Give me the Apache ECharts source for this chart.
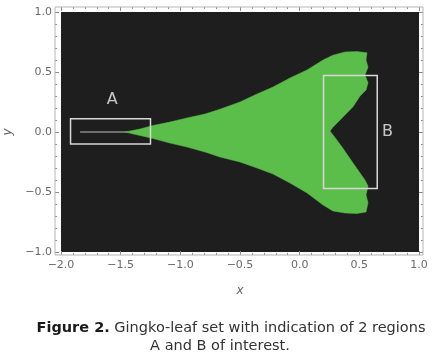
<!DOCTYPE html>
<html>
<head>
<meta charset="utf-8">
<script src="https://cdn.jsdelivr.net/npm/echarts@6/dist/echarts.min.js"></script>
<style>
html,body{margin:0;padding:0;background:#fff;}
#chart{width:433px;height:352px;}
</style>
</head>
<body>
<div id="chart"></div>
<script>
// Axis ticks
var xTicks = [-2.0, -1.5, -1.0, -0.5, 0.0, 0.5, 1.0];
var yTicks = [-1.0, -0.5, 0.0, 0.5, 1.0];

// Outline of the gingko-leaf set (x, y)
var leafOutline = [
  [-1.464, 0.0], [-1.338, 0.025], [-1.229, 0.054], [-1.087, 0.083], [-0.944, 0.117],
  [-0.793, 0.15], [-0.668, 0.19], [-0.5, 0.25], [-0.357, 0.317], [-0.223, 0.375],
  [-0.081, 0.45], [0.062, 0.517], [0.196, 0.6], [0.279, 0.64], [0.38, 0.667],
  [0.48, 0.67], [0.564, 0.66],
  [0.556, 0.6], [0.573, 0.54], [0.547, 0.475], [0.573, 0.41], [0.556, 0.35],
  [0.506, 0.3], [0.447, 0.21], [0.363, 0.125], [0.279, 0.04], [0.254, 0.008],
  [0.305, -0.058], [0.355, -0.125], [0.447, -0.258], [0.506, -0.342], [0.547, -0.4],
  [0.573, -0.45], [0.556, -0.525], [0.573, -0.59], [0.556, -0.667],
  [0.48, -0.679], [0.38, -0.675], [0.279, -0.658], [0.196, -0.608], [0.062, -0.508],
  [-0.081, -0.425], [-0.223, -0.35], [-0.357, -0.3], [-0.5, -0.25], [-0.668, -0.208],
  [-0.793, -0.167], [-0.944, -0.125], [-1.087, -0.092], [-1.229, -0.054], [-1.338, -0.029]
];

// Thin filament inside region A
var filament = [[-1.84, 0.0], [-1.44, 0.0]];

// Regions of interest: [xMin, yMin, xMax, yMax]
var regions = [[-1.92, -0.1, -1.25, 0.11], [0.2, -0.47, 0.65, 0.47]];
// Region labels: [x, y, text]
var regionLabels = [[-1.57, 0.27, 'A'], [0.735, 0.0, 'B']];

var chart = echarts.init(document.getElementById('chart'), null, {renderer: 'canvas'});

var gridL = 61, gridT = 12, gridW = 358, gridH = 240;
var fmt = function (v) { return v.toFixed(1).replace('-', '\u2212'); };
var tickColor = '#8a8a8a';
var labelStyle = {color: '#6a6a6a', fontSize: 11, fontFamily: 'DejaVu Sans'};

function axisBase(extra) {
  var a = {
    type: 'value',
    interval: 0.5,
    axisLine: {show: false, onZero: false},
    axisTick: {show: true, inside: true, length: 4, lineStyle: {color: tickColor, width: 1}},
    minorTick: {show: true, splitNumber: 5, length: 2, lineStyle: {color: tickColor, width: 1}},
    splitLine: {show: false},
    minorSplitLine: {show: false}
  };
  for (var k in extra) a[k] = extra[k];
  return a;
}

var option = {
  animation: false,
  backgroundColor: '#ffffff',
  grid: {left: gridL, top: gridT, width: gridW, height: gridH, show: true, backgroundColor: '#1e1e1e', borderWidth: 0,
    containLabel: false, outerBoundsMode: 'none'},
  xAxis: [
    axisBase({min: xTicks[0], max: xTicks[xTicks.length - 1], position: 'bottom', offset: 3,
      axisLabel: {show: true, formatter: fmt, margin: 5, color: labelStyle.color, fontSize: labelStyle.fontSize, fontFamily: labelStyle.fontFamily},
      name: 'x', nameLocation: 'middle', nameGap: 30,
      nameTextStyle: {color: '#666', fontStyle: 'italic', fontSize: 12, fontFamily: 'DejaVu Sans'}}),
    axisBase({min: xTicks[0], max: xTicks[xTicks.length - 1], position: 'top', offset: 5,
      axisLabel: {show: false}})
  ],
  yAxis: [
    axisBase({min: yTicks[0], max: yTicks[yTicks.length - 1], position: 'left', offset: 6,
      axisLabel: {show: true, formatter: fmt, margin: 3, color: labelStyle.color, fontSize: labelStyle.fontSize, fontFamily: labelStyle.fontFamily},
      name: 'y', nameLocation: 'middle', nameGap: 41, nameRotate: 90,
      nameTextStyle: {color: '#666', fontStyle: 'italic', fontSize: 12, fontFamily: 'DejaVu Sans'}}),
    axisBase({min: yTicks[0], max: yTicks[yTicks.length - 1], position: 'right', offset: 4,
      axisLabel: {show: false}})
  ],
  graphic: [
    {type: 'rect', z: 10, silent: true,
      shape: {x: gridL - 6, y: gridT - 5, width: gridW + 10, height: gridH + 8},
      style: {fill: 'none', stroke: '#b5b5b5', lineWidth: 1}},
    {type: 'text', x: 231, y: 328, z: 10,
      style: {
        text: '{b|Figure 2.} Gingko-leaf set with indication of 2 regions',
        rich: {b: {fontWeight: 'bold', fontSize: 14.5, fontFamily: 'DejaVu Sans', fill: '#1a1a1a'}},
        fontSize: 14.5, fontFamily: 'DejaVu Sans', fill: '#333', align: 'center', verticalAlign: 'middle'
      }},
    {type: 'text', x: 220, y: 346, z: 10,
      style: {text: 'A and B of interest.', fontSize: 14.5, fontFamily: 'DejaVu Sans', fill: '#333', align: 'center', verticalAlign: 'middle'}}
  ],
  series: [
    {
      type: 'custom',
      xAxisIndex: 0, yAxisIndex: 0,
      clip: true,
      data: leafOutline,
      renderItem: function (params, api) {
        if (params.dataIndex !== 0) return null;
        var pts = leafOutline.map(function (p) { return api.coord(p); });
        return {type: 'polygon', shape: {points: pts}, style: {fill: '#5bbd4a', stroke: '#5bbd4a', lineWidth: 0.5}};
      },
      z: 2
    },
    {
      type: 'line',
      xAxisIndex: 0, yAxisIndex: 0,
      data: filament,
      symbol: 'none',
      lineStyle: {color: '#8a8a8a', width: 1.5},
      z: 3
    },
    {
      type: 'custom',
      xAxisIndex: 0, yAxisIndex: 0,
      data: regions,
      renderItem: function (params, api) {
        var p0 = api.coord([api.value(0), api.value(1)]);
        var p1 = api.coord([api.value(2), api.value(3)]);
        return {
          type: 'rect',
          shape: {x: Math.min(p0[0], p1[0]), y: Math.min(p0[1], p1[1]), width: Math.abs(p1[0] - p0[0]), height: Math.abs(p1[1] - p0[1])},
          style: {fill: 'none', stroke: '#d8d8d8', lineWidth: 1.5}
        };
      },
      z: 4
    },
    {
      type: 'scatter',
      xAxisIndex: 0, yAxisIndex: 0,
      data: regionLabels,
      symbolSize: 0,
      label: {show: true, position: 'inside', formatter: function (p) { return p.value[2]; }, color: '#f0f0f0', fontSize: 16, fontFamily: 'DejaVu Sans'},
      z: 5
    }
  ]
};
chart.setOption(option);
</script>
</body>
</html>
